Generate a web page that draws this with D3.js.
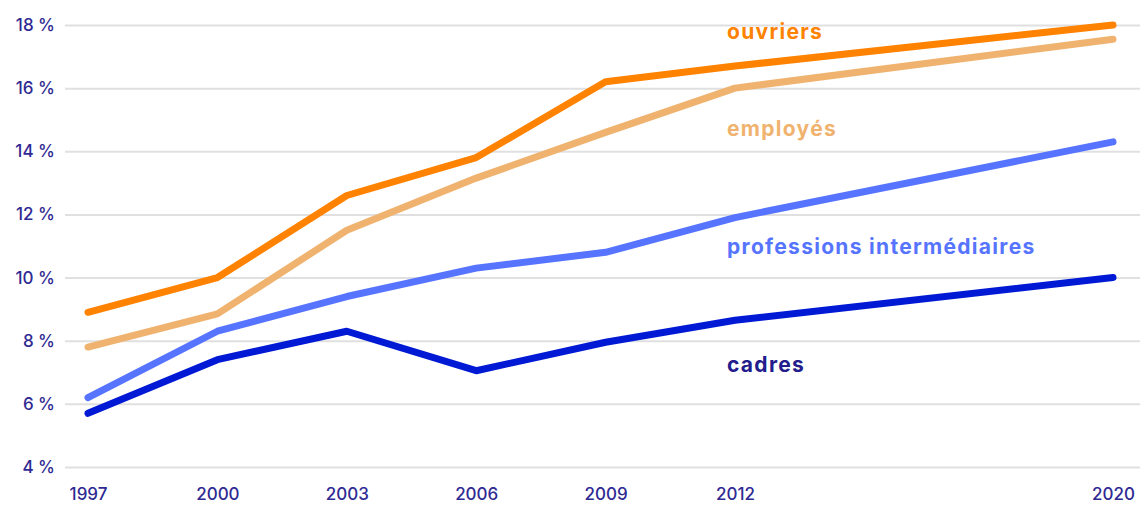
<html>
<head>
<script src="https://d3js.org/d3.v7.min.js"></script>
<style>
  body { margin: 0; background: #fff; }
  text { font-family: Inter, "Noto Sans", sans-serif; }
</style>
</head>
<body>
<svg></svg>
<script>
const years = [1997, 2000, 2003, 2006, 2009, 2012, 2020];
const ouvriers = [8.9, 10.0, 12.6, 13.8, 16.2, 16.7, 18.0];
const employes = [7.8, 8.85, 11.5, 13.15, 14.6, 16.0, 17.55];
const professions = [6.2, 8.3, 9.4, 10.3, 10.8, 11.9, 14.3];
const cadres = [5.7, 7.4, 8.3, 7.05, 7.95, 8.65, 10.0];
const yTicks = [4, 6, 8, 10, 12, 14, 16, 18];

const width = 1145;
const height = 510;

const svg = d3.select("svg").attr("width", width).attr("height", height);

// the x spacing in the original isn't quite linear, piecewise fits better
const x = d3.scaleLinear().domain([1997, 2012, 2020]).range([88, 735, 1113]);
const y = d3.scaleLinear().domain([4, 18]).range([467, 25]);

// gridlines + y labels
const yAxis = svg.append("g")
  .attr("transform", "translate(65,0)")
  .call(d3.axisLeft(y).tickValues(yTicks).tickSize(-1075).tickPadding(10)
    .tickFormat(function(d) { return d + " %"; }));
yAxis.select(".domain").remove();
yAxis.selectAll(".tick line").attr("stroke", "#e0e0e0").attr("stroke-width", 2);
yAxis.selectAll(".tick text")
  .attr("fill", "#2f2a93")
  .style("font-size", "17px")
  .style("font-weight", "500");

// x labels
const xAxis = svg.append("g")
  .attr("transform", "translate(0,480)")
  .call(d3.axisBottom(x).tickValues(years).tickSize(0).tickPadding(8).tickFormat(d3.format("d")));
xAxis.select(".domain").remove();
xAxis.selectAll(".tick text")
  .attr("fill", "#2f2a93")
  .style("font-size", "17px")
  .style("font-weight", "500");

const series = [
  { name: "cadres", values: cadres, color: "#0019d4", labelColor: "#231c8c", labelY: 372 },
  { name: "professions intermédiaires", values: professions, color: "#5674ff", labelColor: "#5674ff", labelY: 254 },
  { name: "employés", values: employes, color: "#f0b36f", labelColor: "#f0b36f", labelY: 136 },
  { name: "ouvriers", values: ouvriers, color: "#ff8200", labelColor: "#ff8200", labelY: 39 }
];

const line = d3.line()
  .x(function(d, i) { return x(years[i]); })
  .y(function(d) { return y(d); });

series.forEach(function(s) {
  svg.append("path")
    .datum(s.values)
    .attr("fill", "none")
    .attr("stroke", s.color)
    .attr("stroke-width", 7)
    .attr("stroke-linecap", "round")
    .attr("stroke-linejoin", "round")
    .attr("d", line);

  svg.append("text")
    .attr("x", 727)
    .attr("y", s.labelY)
    .attr("fill", s.labelColor)
    .style("font-size", "21px")
    .style("font-weight", "700")
    .style("letter-spacing", "1.3px")
    .text(s.name);
});
</script>
</body>
</html>
